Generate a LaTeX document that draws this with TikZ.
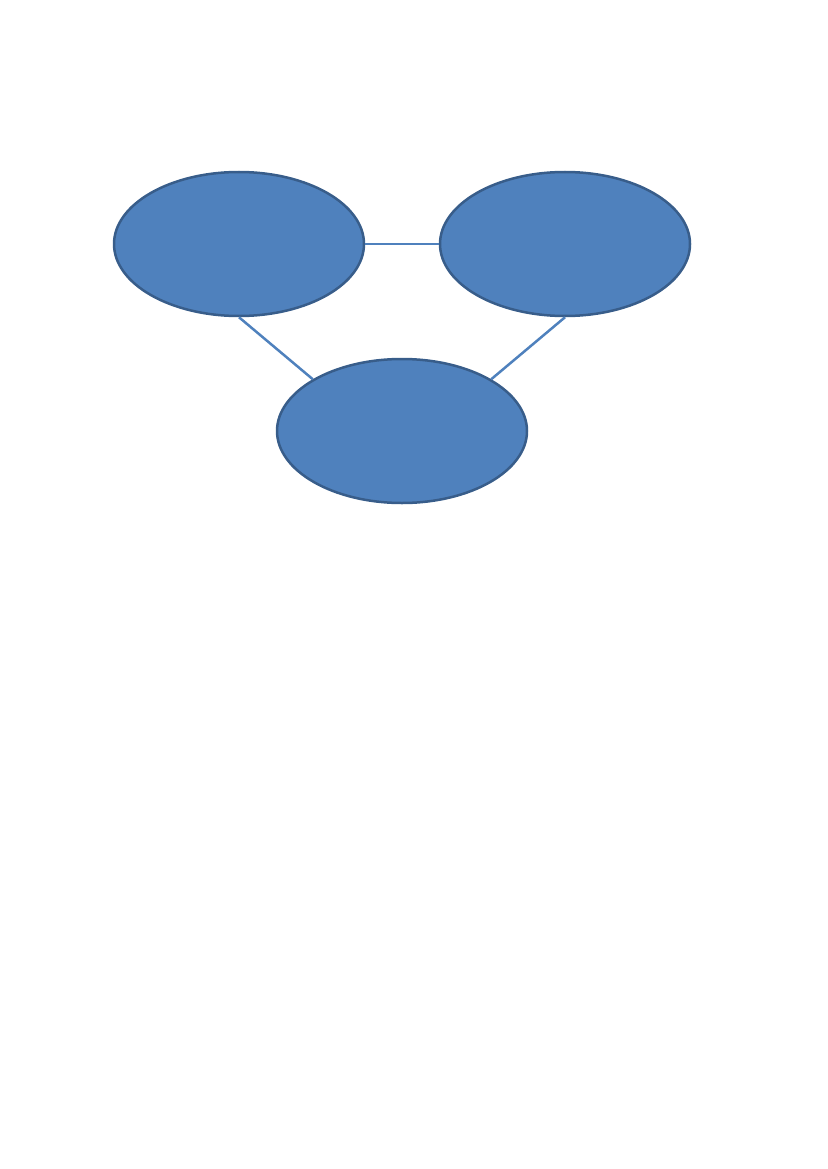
\documentclass[tikz,border=0pt]{standalone}
\usetikzlibrary{shapes.geometric}
\definecolor{ofblue}{HTML}{4F81BD}
\definecolor{ofborder}{HTML}{385D8A}
\tikzset{
  bubble/.style={ellipse, fill=ofblue, draw=ofborder, line width=2.5pt,
    minimum width=250pt, minimum height=144pt, inner sep=0pt},
  link/.style={draw=ofblue, line width=2.5pt}
}
\begin{document}
\begin{tikzpicture}[x=1pt,y=-1pt]
\useasboundingbox (0,0) rectangle (827,1169);
\node[bubble] (a) at (239,244) {};
\node[bubble] (b) at (565,244) {};
\node[bubble] (c) at (402,431) {};
\draw[link] (a.east) -- (b.west);
\draw[link] (a.south) -- (c.north west);
\draw[link] (b.south) -- (c.north east);
\end{tikzpicture}
\end{document}
